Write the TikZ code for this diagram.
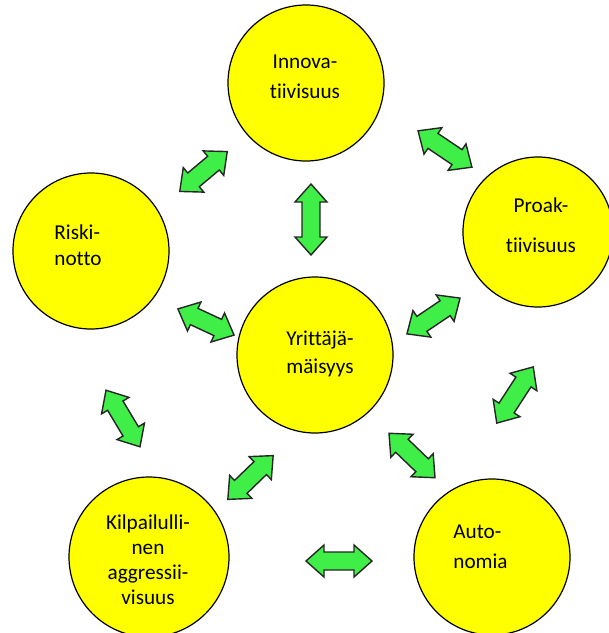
\documentclass[tikz,border=0pt]{standalone}
\usepackage{fontspec}
\setmainfont{Carlito}[Ligatures={NoCommon}]
\definecolor{ballyellow}{RGB}{255,255,0}
\definecolor{arrowgreen}{RGB}{64,238,72}
\begin{document}
\begin{tikzpicture}[x=0.5pt,y=-0.5pt,
  ball/.style={circle,draw=black,line width=0.6pt,fill=ballyellow,inner sep=0pt,minimum size=#1},
  lbl/.style={inner sep=0pt,align=center,font=\fontsize{10.6}{#1}\selectfont},
  lbll/.style={inner sep=0pt,align=left,anchor=west,font=\fontsize{10.6}{#1}\selectfont},
  blockarrow/.style={fill=arrowgreen,draw=black!85,line width=0.7pt,line join=miter},
  pics/dblarrow/.style={code={
    \path[blockarrow]
      (-#1/2,0) -- (-#1/2+18,16) -- (-#1/2+18,9) -- (#1/2-18,9) -- (#1/2-18,16)
      -- (#1/2,0) -- (#1/2-18,-16) -- (#1/2-18,-9) -- (-#1/2+18,-9) -- (-#1/2+18,-16) -- cycle;
  }}
]
\useasboundingbox (0,0) rectangle (609,633);

% circles
\node[ball=78pt] (innova) at (306,83) {};
\node[ball=78pt] (riski) at (91,251) {};
\node[ball=75pt] (proak) at (538,232) {};
\node[ball=78pt] (yritt) at (315,355) {};
\node[ball=80pt] (kilp) at (149,557) {};
\node[ball=78pt] (auto) at (492,557) {};

% labels
\node[lbl=15pt] (innovaT) at (305,77) {Innova-\\tiivisuus};
\node[lbll=13pt] (riskiT) at (54,245) {Riski-\\notto};
\node[lbl=20pt] (proakT) at (541,225) {Proak-\\tiivisuus};
\node[lbl=14pt] (yrittT) at (320,354) {Yrittäjä-\\mäisyys};
\node[lbl=12.5pt] (kilpT) at (148,560) {Kilpailulli-\\nen\\aggressii-\\visuus};
\node[lbll=15pt] (autoT) at (453,547) {Auto-\\nomia};

% double-headed block arrows
\pic[rotate=40]  (a1)  at (203.5,171.5) {dblarrow=62};
\pic[rotate=90]  (a2)  at (311,219.5)   {dblarrow=71};
\pic[rotate=-34] (a3)  at (445,149)     {dblarrow=65};
\pic[rotate=-25] (a4)  at (206,322)     {dblarrow=62};
\pic[rotate=34]  (a5)  at (433.5,316)   {dblarrow=64};
\pic[rotate=121] (a6)  at (123,418.5)   {dblarrow=66};
\pic[rotate=44]  (a7)  at (250.5,477.5) {dblarrow=63};
\pic[rotate=-44] (a8)  at (412,455.5)   {dblarrow=64};
\pic[rotate=57]  (a9)  at (515,395)     {dblarrow=67};
\pic             (a10) at (339,561)     {dblarrow=66};
\end{tikzpicture}
\end{document}
